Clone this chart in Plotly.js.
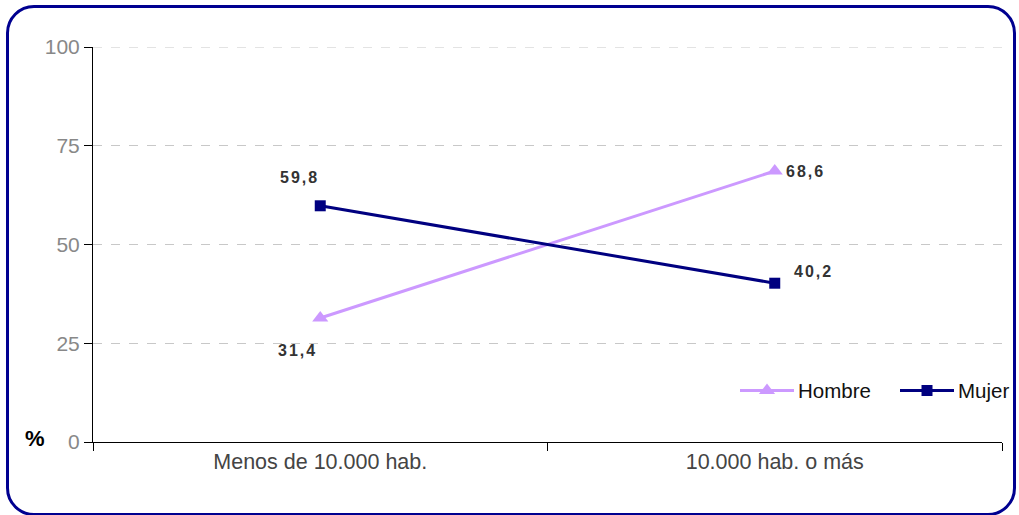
<!DOCTYPE html>
<html>
<head>
<meta charset="utf-8">
<script src="https://cdn.plot.ly/plotly-3.0.1.min.js"></script>
<style>
  html, body { margin: 0; padding: 0; background: #fff; }
  #wrap { position: relative; width: 1019px; height: 515px; }
  #chart { position: absolute; left: 0; top: 0; width: 1019px; height: 515px; }
  #frame { position: absolute; left: 6px; top: 5px; width: 1004px; height: 505px;
           border: 3px solid #000090; border-radius: 28px; pointer-events: none; }
  .annotation-text.vlabel { letter-spacing: 2px; }
</style>
</head>
<body>
<div id="wrap">
  <div id="chart"></div>
  <div id="frame"></div>
</div>
<script>
const categories = ["Menos de 10.000 hab.", "10.000 hab. o más"];
const hombre = [31.4, 68.6];
const mujer = [59.8, 40.2];
const yTicks = [0, 25, 50, 75, 100];

const fmt = v => v.toFixed(1).replace(".", ",");
const FAM = "'Liberation Sans', Arial, sans-serif";

const traces = [
  { x: categories, y: hombre, name: "Hombre", type: "scatter", mode: "lines+markers",
    line: { color: "#CC99FF", width: 3 },
    marker: { symbol: "triangle-up", size: 14, color: "#CC99FF" } },
  { x: categories, y: mujer, name: "Mujer", type: "scatter", mode: "lines+markers",
    line: { color: "#000080", width: 3 },
    marker: { symbol: "square", size: 11, color: "#000080" } }
];

const labelFont = { family: FAM, size: 16, color: "#333333", weight: "bold" };
const offsets = {
  hombre: [[-23, -33], [31, 0]],
  mujer: [[-21, 28], [39, 12]]
};
const annotations = [];
hombre.forEach((v, i) => annotations.push({ x: categories[i], y: v, xref: "x", yref: "y",
  text: fmt(v), showarrow: false, font: labelFont, xshift: offsets.hombre[i][0], yshift: offsets.hombre[i][1] }));
mujer.forEach((v, i) => annotations.push({ x: categories[i], y: v, xref: "x", yref: "y",
  text: fmt(v), showarrow: false, font: labelFont, xshift: offsets.mujer[i][0], yshift: offsets.mujer[i][1] }));
annotations.push({ x: 0, y: 0, xref: "paper", yref: "y", xanchor: "right", yanchor: "middle",
  xshift: -46, yshift: 4, text: "%", showarrow: false,
  font: { family: FAM, size: 22, color: "#000", weight: "bold" } });

const layout = {
  width: 1019, height: 515,
  margin: { l: 93, r: 15, t: 47, b: 73 },
  paper_bgcolor: "rgba(0,0,0,0)", plot_bgcolor: "#fff",
  font: { family: FAM, color: "#444" },
  showlegend: true,
  legend: { orientation: "h", x: 1.006, xanchor: "right", y: 0.13, yanchor: "middle",
    font: { family: FAM, size: 20.5, color: "#111" }, bgcolor: "rgba(0,0,0,0)", itemwidth: 30, tracegroupgap: 0 },
  xaxis: { type: "category", range: [-0.5, 1.5], showline: true, linecolor: "#000", linewidth: 1,
    ticks: "outside", tickson: "boundaries", ticklen: 8, tickcolor: "#000", showgrid: false,
    tickfont: { family: FAM, size: 21.5, color: "#444" }, zeroline: false },
  yaxis: { range: [0, 100], tickvals: yTicks, ticktext: yTicks.map(String), showline: true,
    linecolor: "#000", linewidth: 1, ticks: "outside", ticklen: 8, tickcolor: "#000",
    showgrid: true, gridcolor: "#c8c8c8", griddash: "dash", gridwidth: 1, zeroline: false,
    tickfont: { family: FAM, size: 21, color: "#888" } },
  shapes: [{ type: "line", xref: "paper", yref: "y", x0: 0, x1: 1, y0: yTicks[yTicks.length - 1], y1: yTicks[yTicks.length - 1],
    line: { color: "#c8c8c8", width: 1, dash: "dash" }, layer: "below" }],
  annotations: annotations
};

Plotly.newPlot("chart", traces, layout, { displayModeBar: false, staticPlot: true }).then(() => {
  document.querySelectorAll(".annotation-text").forEach((t, i) => { if (i < 4) t.classList.add("vlabel"); });
  // remove legend clipping so entries can be repositioned freely
  document.querySelectorAll(".legend, .legend *").forEach(el => el.removeAttribute("clip-path"));
  // lengthen legend symbols and place entries like the reference
  const targets = [740, 900]; // left edge of each legend line (px)
  const LINE = 54;
  const host = document.getElementById("chart").getBoundingClientRect();
  document.querySelectorAll(".legend .traces").forEach((g, i) => {
    const lp = g.querySelector(".legendlines path");
    if (lp) lp.setAttribute("d", "M5,0h" + LINE);
    const pts = g.querySelector(".legendpoints");
    if (pts) pts.querySelectorAll("path").forEach(p => p.setAttribute("transform", "translate(" + (5 + LINE / 2) + ",0)"));
    const txt = g.querySelector(".legendtext");
    if (txt) txt.setAttribute("x", 5 + LINE + 4);
    if (lp && targets[i] !== undefined) {
      const r = lp.getBoundingClientRect();
      const dx = targets[i] - (r.left - host.left);
      const m = (g.getAttribute("transform") || "").match(/translate\(\s*([-\d.]+)[ ,]+([-\d.]+)/);
      const tx = m ? parseFloat(m[1]) : 0, ty = m ? parseFloat(m[2]) : 0;
      g.setAttribute("transform", "translate(" + (tx + dx) + "," + ty + ")");
    }
  });
});
</script>
</body>
</html>
